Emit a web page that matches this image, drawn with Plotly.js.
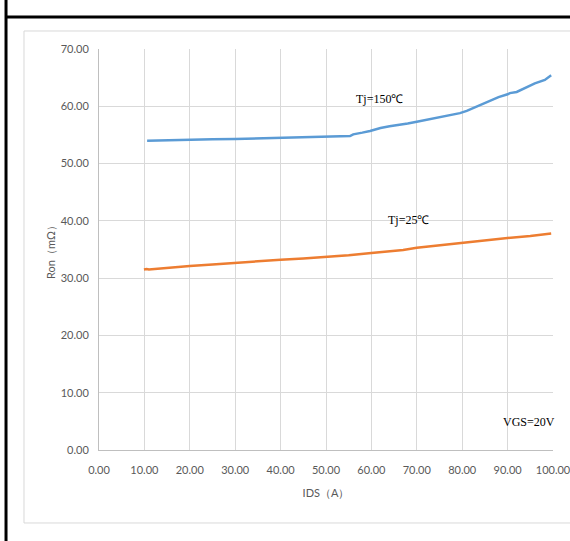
<!DOCTYPE html>
<html><head><meta charset="utf-8">
<script src="https://cdn.plot.ly/plotly-3.0.1.min.js"></script>
<style>html,body{margin:0;padding:0;background:#fff;}#c{width:570px;height:541px;}</style>
</head><body><div id="c"></div>
<script>
var hotX = [10.6, 15, 20, 25, 30, 35, 40, 45, 50, 54, 55.3, 56, 57, 58, 59.7, 62, 64, 66, 68, 70, 72, 74, 76, 78, 79.5, 81, 82.5, 83.9, 86, 88, 90, 90.5, 92, 94.9, 96, 98.2, 99.6];
var hotY = [54.0, 54.1, 54.15, 54.25, 54.3, 54.4, 54.45, 54.55, 54.65, 54.75, 54.8, 55.1, 55.2, 55.4, 55.7, 56.2, 56.5, 56.7, 57.0, 57.3, 57.6, 57.9, 58.2, 58.5, 58.8, 59.2, 59.7, 60.2, 60.9, 61.6, 62.1, 62.3, 62.5, 63.6, 64.0, 64.6, 65.4];
var roomX = [9.9, 10.5, 11, 15, 20, 25, 30, 35, 40, 45, 50, 55, 60, 65, 67, 70, 75, 80, 85, 90, 95, 99.6];
var roomY = [31.5, 31.6, 31.5, 31.8, 32.1, 32.4, 32.7, 32.95, 33.2, 33.45, 33.7, 34.0, 34.4, 34.75, 34.9, 35.3, 35.75, 36.2, 36.6, 37.0, 37.35, 37.8];
var xTicks = [0,10,20,30,40,50,60,70,80,90,100];
var yTicks = [0,10,20,30,40,50,60,70];
var labels = [
  {text:'Tj=150℃', x:61.7, y:61.3},
  {text:'Tj=25℃', x:68.1, y:40.1},
  {text:'VGS=20V', x:94.7, y:4.9}
];

var tickFont = {family:'Lato, Carlito, sans-serif', size:11, color:'#595959'};
var traces = [
  {x:hotX, y:hotY, mode:'lines', line:{color:'#5B9BD5', width:2.5}, name:'Tj=150℃'},
  {x:roomX, y:roomY, mode:'lines', line:{color:'#ED7D31', width:2.5}, name:'Tj=25℃'}
];
var ann = labels.map(function(l){return {text:l.text, x:l.x, y:l.y, xref:'x', yref:'y', showarrow:false,
  font:{family:'Liberation Serif, serif', size:12, color:'#000'}};});

var layout = {
  width:570, height:541,
  margin:{l:99, r:17, t:49, b:91},
  paper_bgcolor:'#fff', plot_bgcolor:'#fff',
  showlegend:false,
  xaxis:{range:[0,100], tickvals:xTicks, tickformat:'.2f', showgrid:true, gridcolor:'#d9d9d9', gridwidth:1,
    zeroline:false, showline:true, linecolor:'#bfbfbf', linewidth:1, ticks:'', tickfont:tickFont,
    ticklabelstandoff:10, ticklabeloverflow:'allow',
    title:{text:'IDS（A）', font:{family:'Lato, sans-serif', size:11, color:'#595959'}, standoff:14}},
  yaxis:{range:[0,70], tickvals:yTicks, tickformat:'.2f', showgrid:true, gridcolor:'#d9d9d9', gridwidth:1,
    zeroline:false, showline:true, linecolor:'#bfbfbf', linewidth:1, ticks:'', tickfont:tickFont,
    ticklabelstandoff:7, ticklabeloverflow:'allow',
    title:{text:'Ron（mΩ）', font:{family:'Lato, sans-serif', size:11, color:'#595959'}, standoff:2}},
  annotations:ann,
  shapes:[
    {type:'rect', xref:'paper', yref:'paper', x0:-0.1652, x1:1.06, y0:-0.182, y1:1.0449, line:{color:'#d9d9d9', width:1}, layer:'below'},
    {type:'line', xref:'paper', yref:'paper', x0:-0.2048, x1:-0.2048, y0:-0.23, y1:1.123, line:{color:'#000', width:3}},
    {type:'line', xref:'paper', yref:'paper', x0:-0.2048, x1:1.06, y0:1.0798, y1:1.0798, line:{color:'#000', width:3}}
  ]
};
Plotly.newPlot('c', traces, layout, {staticPlot:true});
</script></body></html>
